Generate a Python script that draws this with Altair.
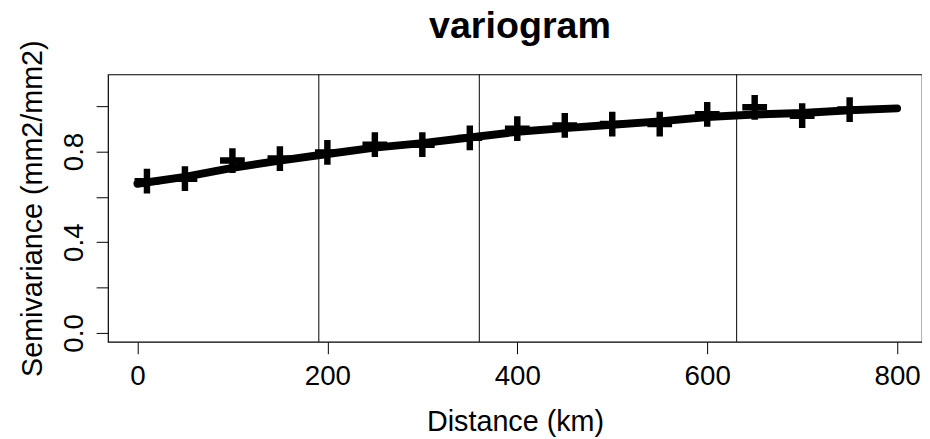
import altair as alt
import pandas as pd

# Empirical semivariance points (distance km, semivariance)
point_km = [10, 50, 100, 150, 200, 250, 300, 350, 400, 450, 500, 550, 600, 650, 700, 750]
point_gamma = [0.669, 0.680, 0.760, 0.769, 0.796, 0.830, 0.830, 0.860, 0.901, 0.915,
               0.921, 0.921, 0.964, 0.995, 0.958, 0.985]

# Fitted variogram model curve
fit_km = [0, 50, 100, 150, 200, 250, 300, 350, 400, 450, 500, 550, 600, 650, 700, 750, 800]
fit_gamma = [0.658, 0.688, 0.728, 0.760, 0.789, 0.817, 0.837, 0.862, 0.887, 0.903,
             0.918, 0.933, 0.952, 0.963, 0.970, 0.982, 0.990]

# Vertical reference lines
range_km = [191, 360, 631]

x_ticks = [0, 200, 400, 600, 800]
y_ticks = [0.0, 0.2, 0.4, 0.6, 0.8, 1.0]

pts = pd.DataFrame({"km": point_km, "gamma": point_gamma})
fit = pd.DataFrame({"km": fit_km, "gamma": fit_gamma})
rng = pd.DataFrame({"km": range_km})

FONT = "Liberation Sans"
xs = alt.Scale(domain=[-31.0, 826.2], nice=False, zero=False)
ys = alt.Scale(domain=[-0.0393, 1.1397], nice=False, zero=False)

x_axis = alt.Axis(
    values=x_ticks, title="Distance (km)", domain=False, grid=False,
    tickSize=12, tickColor="black", tickWidth=1,
    labelFontSize=28, labelFont=FONT, labelColor="black",
    labelBaseline="alphabetic", labelPadding=31, labelFlush=False, labelOverlap=False,
    titleFontSize=29, titleFont=FONT, titleFontWeight="normal", titleColor="black",
    titleBaseline="alphabetic", titleAlign="center", titleX=411, titleY=90,
)
y_axis = alt.Axis(
    values=y_ticks, title="Semivariance (mm2/mm2)", domain=False, grid=False,
    tickSize=12, tickColor="black", tickWidth=1,
    labelExpr="round(datum.value*10) % 4 == 0 ? format(datum.value, '.1f') : ''",
    labelFontSize=28, labelFont=FONT, labelColor="black",
    labelAngle=270, labelAlign="center", labelBaseline="alphabetic",
    labelPadding=14, labelOverlap=False, labelFlush=False,
    titleFontSize=29, titleFont=FONT, titleFontWeight="normal", titleColor="black",
    titleAngle=270, titleBaseline="alphabetic", titleAlign="center",
    titleX=-67, titleY=135,
)

base_x = alt.X("km:Q", scale=xs, axis=x_axis)
base_y = alt.Y("gamma:Q", scale=ys, axis=y_axis)

rules = alt.Chart(rng).mark_rule(color="black", strokeWidth=1).encode(
    x=alt.X("km:Q", scale=xs)
)
line = alt.Chart(fit).mark_line(
    color="black", strokeWidth=8, strokeCap="round", strokeJoin="round"
).encode(x=base_x, y=base_y)
points = alt.Chart(pts).mark_point(
    shape="M-1,0L1,0M0,-1L0,1", filled=False, size=625, strokeWidth=6.5,
    color="black", opacity=1, strokeCap="butt"
).encode(x=alt.X("km:Q", scale=xs), y=alt.Y("gamma:Q", scale=ys))

chart = alt.layer(line, points, rules).properties(
    width=822, height=270,
    background="white",
    autosize=alt.AutoSizeParams(type="none"),
    padding={"left": 101, "top": 65, "right": 0, "bottom": 96},
    title=alt.TitleParams(
        "variogram", fontSize=38, fontWeight="bold", font=FONT, anchor="middle",
        baseline="alphabetic", offset=-36, dx=5, color="black", frame="group"
    ),
).configure_view(stroke="black", strokeWidth=1.2)

chart.save("out.html", embed_options={"renderer": "svg", "actions": False})
